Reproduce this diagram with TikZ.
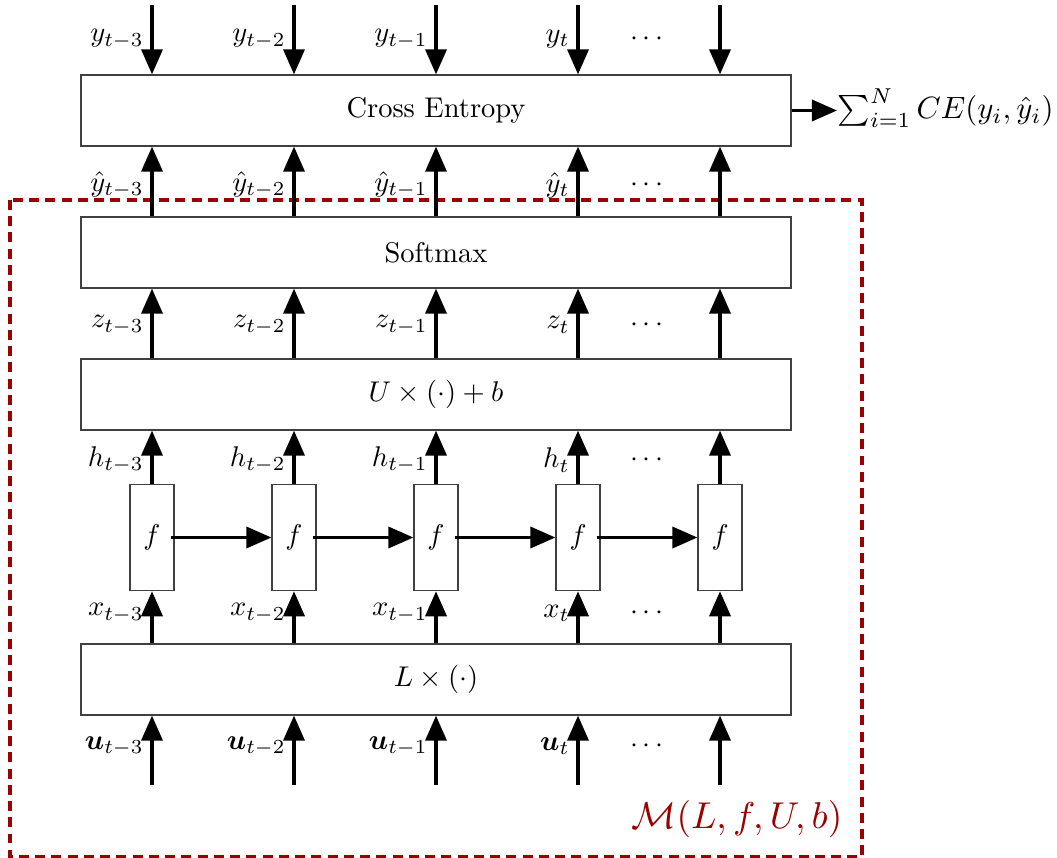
\documentclass[tikz,border=0pt]{standalone}
\usepackage{amsmath,bm,graphicx}
\usetikzlibrary{arrows.meta,calc}
\definecolor{darkred}{RGB}{153,0,0}
\begin{document}
\begin{tikzpicture}[x=0.3509pt,y=-0.3509pt,
 box/.style={draw=black!75, line width=0.45pt, minimum width=249.1pt, minimum height=24.9pt, inner sep=0pt},
 fbox/.style={draw=black!75, line width=0.45pt, minimum width=15.4pt, minimum height=37.3pt, inner sep=0pt},
 arr/.style={line width=1.2pt, -{Triangle[length=8.8pt,width=7.4pt]}},
 lbl/.style={anchor=east, inner sep=1pt},
 dotsnode/.style={inner sep=0pt}]
\useasboundingbox (0,0) rectangle (1057,858);
\draw[darkred, line width=1.1pt, dash pattern=on 3.5pt off 2.2pt] (10,200) rectangle (862,857);
\node[box] (ce) at (436,110.5) {Cross Entropy};
\node[box] (sm) at (436,252.5) {Softmax};
\node[box] (ub) at (436,394.5) {$U\times(\cdot)+b$};
\node[box] (lb) at (436,679.5) {$L\times(\cdot)$};
\foreach \i/\x in {1/152,2/294,3/436,4/578,5/720} {
  \node[fbox] (f\i) at (\x,537.5) {$f$};
  \coordinate (top\i) at (\x,5);
  \coordinate (bot\i) at (\x,785);
}
\foreach \i in {1,...,5} {
  \draw[arr] (top\i) -- (ce.north -| top\i);
  \draw[arr] (sm.north -| top\i) -- (ce.south -| top\i);
  \draw[arr] (ub.north -| top\i) -- (sm.south -| top\i);
  \draw[arr] (f\i.north) -- (ub.south -| f\i);
  \draw[arr] (lb.north -| f\i) -- (f\i.south);
  \draw[arr] (bot\i) -- (lb.south -| bot\i);
}
\foreach \i/\j in {1/2,2/3,3/4,4/5} {
  \draw[arr, shorten <=-1.4pt] (f\i.east) -- (f\j.west);
}
\foreach \i/\x/\s in {1/147/t-3,2/289/t-2,3/431/t-1,4/573/t} {
  \node[lbl] (ly\i) at (\x,39) {$y_{\s}$};
  \node[lbl] (lyh\i) at (\x,185) {$\hat y_{\s}$};
  \node[lbl] (lz\i) at (\x,325) {$z_{\s}$};
  \node[lbl] (lh\i) at (\x,460) {$h_{\s}$};
  \node[lbl] (lx\i) at (\x,613) {$x_{\s}$};
  \node[lbl] (lu\i) at (\x,746) {$\bm{u}_{\s}$};
}
\foreach \r/\y in {a/39,b/185,c/325,d/460,e/613,f/746} {
  \node[dotsnode] (dots\r) at (649,\y) {$\cdots$};
}
\node[anchor=west, inner sep=0pt] (sum) at (837,108) {\scalebox{1.08}{$\sum_{i=1}^N CE(y_i,\hat y_i)$}};
\draw[arr] (ce.east) -- (ce.east -| sum.west);
\node[anchor=east, text=darkred, inner sep=0pt] (mlbl) at (843,819) {\scalebox{1.31}{$\mathcal{M}(L,f,U,b)$}};
\end{tikzpicture}
\end{document}
